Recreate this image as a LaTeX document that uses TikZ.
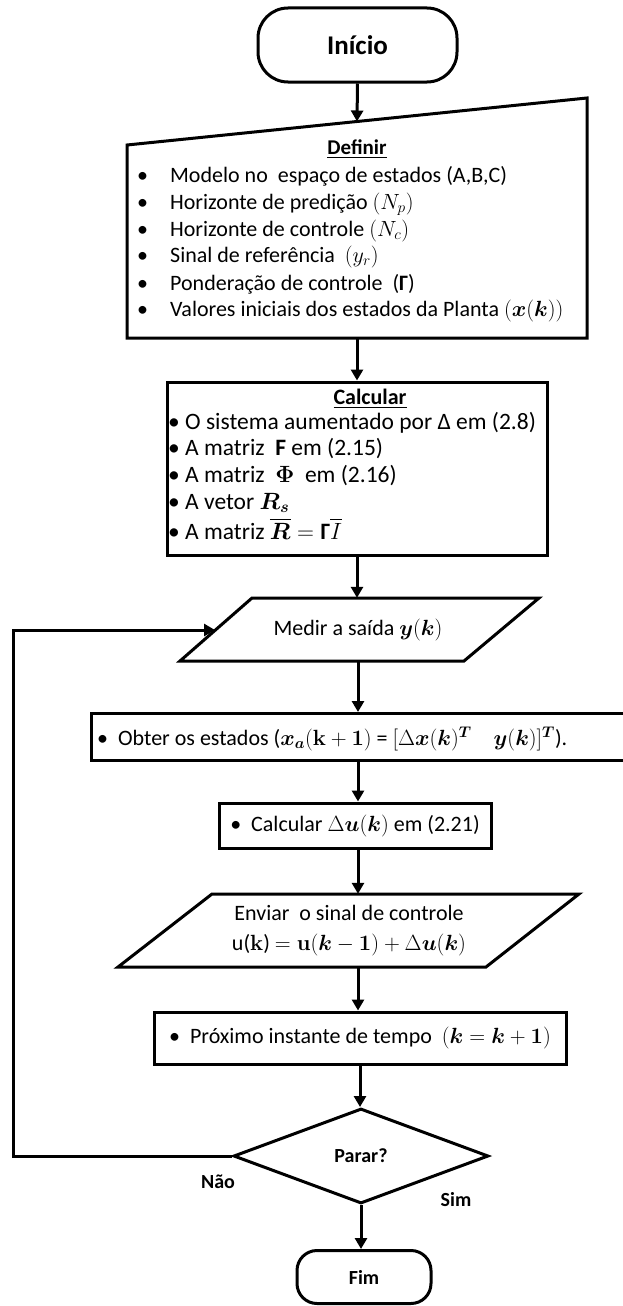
\RequirePackage{fix-cm}
\documentclass[tikz,border=0pt]{standalone}
\usepackage{amsmath}
\usepackage[no-math]{fontspec}
\setmainfont{Carlito}
\usetikzlibrary{arrows.meta,shapes.geometric,calc}
\newcommand\myfs{\fontsize{22}{27}\selectfont}
\newcommand\mycfs{\fontsize{23.5}{27}\selectfont}
\newcommand\mybf[1]{\fontsize{#1}{#1}\selectfont\bfseries}
\begin{document}
\begin{tikzpicture}[x=1pt,y=-1pt,
  every node/.style={inner sep=0pt,text=black},
  shp/.style={draw,line width=3pt},
  arr/.style={line width=3pt,-{Triangle[length=11pt,width=12pt]}},
  txt/.style={anchor=base west,font=\myfs},
  ctxt/.style={anchor=base west,font=\mycfs},
  boxed/.style={draw,line width=3pt,font=\myfs,align=center},
  lbl/.style={font=\mybf{20}}]
\useasboundingbox (0,0) rectangle (622,1306);

% Inicio
\node[boxed,rounded corners=30pt,minimum width=199pt,minimum height=74pt,font=\mybf{27}] (ini) at (357.5,45) {Início};

% Definir
\node[minimum width=460pt,minimum height=193pt] (def) at (357,241.5) {};
\draw[shp] (127,145) -- (587,98) -- (587,338) -- (127,338) -- cycle;
\coordinate (defin) at (357,121.5);
\draw[arr] (ini.south) -- (defin);
\node[anchor=base,font=\mybf{21}] (deft) at (357,154) {\underline{Definir}};
\node[txt] (d1) at (137,182) {\makebox[33pt][l]{•}Modelo no\ \ espaço de estados (A,B,C)};
\node[txt] (d2) at (137,209) {\makebox[33pt][l]{•}Horizonte de predição $(N_p)$};
\node[txt] (d3) at (137,236) {\makebox[33pt][l]{•}Horizonte de controle $(N_c)$};
\node[txt] (d4) at (137,262) {\makebox[33pt][l]{•}Sinal de referência\ \ $(y_r)$};
\node[txt] (d5) at (137,290) {\makebox[33pt][l]{•}Ponderação de controle\ \ (\textbf{Γ})};
\node[txt] (d6) at (137,316) {\makebox[33pt][l]{•}Valores iniciais dos estados da Planta $(\boldsymbol{x}(\boldsymbol{k}))$};

% Calcular
\node[shp,minimum width=380pt,minimum height=173pt] (calc) at (357,468.5) {};
\draw[arr] (def.south) -- (calc.north);
\node[anchor=base,font=\mybf{22}] (calct) at (370,404) {\underline{Calcular}};
\node[ctxt] (c1) at (168,429) {\makebox[17pt][l]{•}O sistema aumentado por Δ em (2.8)};
\node[ctxt] (c2) at (168,455) {\makebox[17pt][l]{•}A matriz\ \ \textbf{F} em (2.15)};
\node[ctxt] (c3) at (168,482) {\makebox[17pt][l]{•}A matriz\ \ $\boldsymbol{\Phi}$\ \ em (2.16)};
\node[ctxt] (c4) at (168,509) {\makebox[17pt][l]{•}A vetor $\boldsymbol{R_s}$};
\node[ctxt] (c5) at (168,539) {\makebox[17pt][l]{•}A matriz $\overline{\boldsymbol{R}}=\text{\textbf{Γ}}\overline{I}$};

% Medir
\node[font=\myfs,minimum height=63pt,minimum width=200pt] (medir) at (358,629.5) {Medir a saída $\boldsymbol{y}(\boldsymbol{k})$};
\draw[shp] (252,598) -- (539,598) -- (464,661) -- (180,661) -- cycle;
\draw[arr] (calc.south) -- (calc.south |- medir.north);
\coordinate (medin) at (215,630);

% Obter
\node[shp,minimum width=540pt,minimum height=47pt,anchor=north west] (obter) at (90,712) {};
\node[txt] (obtt) at (97,745) {•\ \ Obter os estados ($\boldsymbol{x}_{\boldsymbol{a}}(\mathbf{k}+\mathbf{1})$ = $[\Delta\boldsymbol{x}(\boldsymbol{k})^{\boldsymbol{T}}\quad\boldsymbol{y}(\boldsymbol{k})]^{\boldsymbol{T}}$).};
\draw[arr] (medir.south) -- (medir.south |- obter.north);

% Delta u
\node[boxed,minimum width=272pt,minimum height=45pt] (du) at (355,825.5) {•\ \ Calcular $\Delta\boldsymbol{u}(\boldsymbol{k})$ em (2.21)};
\draw[arr] (medir.south |- obter.south) -- (medir.south |- du.north);

% Enviar
\node[font=\myfs,align=center,minimum height=73pt] (env) at (349,930.5) {Enviar\ \ o sinal de controle\\[3pt]u($\mathbf{k}$) $=\mathbf{u}(\boldsymbol{k}-\mathbf{1})+\Delta\boldsymbol{u}(\boldsymbol{k})$};
\draw[shp] (212,894) -- (579,894) -- (486,967) -- (118,967) -- cycle;
\draw[arr] (medir.south |- du.south) -- (medir.south |- env.north);

% Proximo
\node[boxed,minimum width=412pt,minimum height=52pt] (prox) at (360,1038) {•\ \ Próximo instante de tempo\ \ $(\boldsymbol{k}=\boldsymbol{k}+\mathbf{1})$};
\draw[arr] (medir.south |- env.south) -- (medir.south |- prox.north);

% Decision
\node[shape=diamond,draw,line width=3pt,minimum width=255pt,minimum height=95pt,font=\mybf{20}] (dia) at (361,1156) {Parar?};
\draw[arr] (prox.south) -- (prox.south |- dia.north);

% Fim
\node[boxed,rounded corners=20pt,minimum width=134pt,minimum height=53pt,font=\mybf{20}] (fim) at (364,1277) {Fim};
\draw[arr] (dia.south) -- (dia.south |- fim.north);

% loop
\coordinate (lp) at (13,630);
\draw[arr] (dia.west) -- (dia.west -| lp) -- (lp) -- (medin);

\node[lbl] (nao) at (218,1182) {Não};
\node[lbl] (sim) at (456,1200) {Sim};
\end{tikzpicture}
\end{document}
